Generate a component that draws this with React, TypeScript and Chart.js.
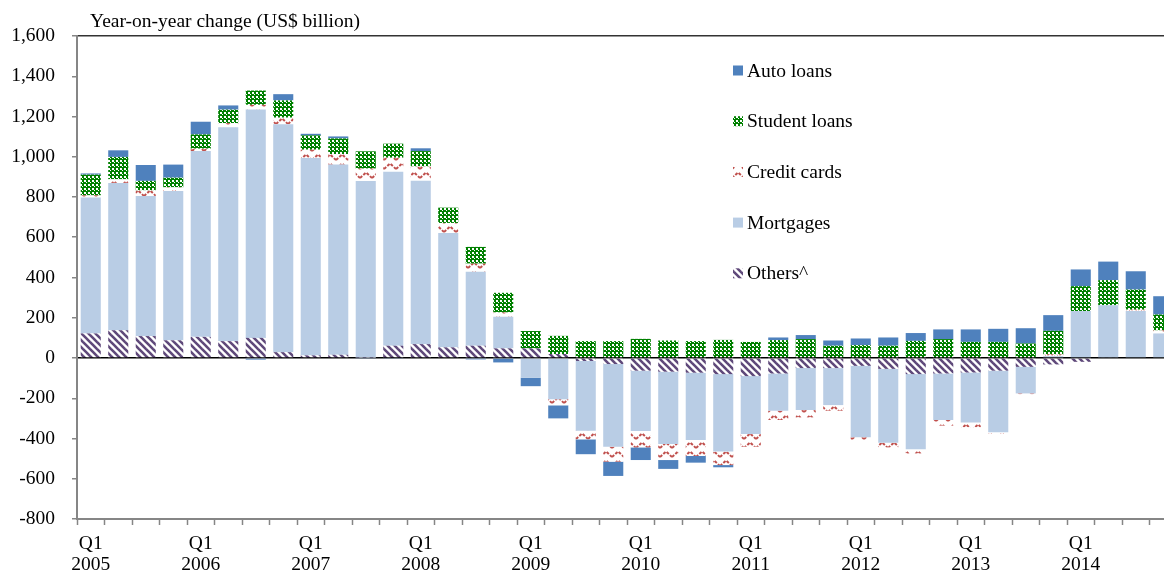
import React, { useEffect, useRef } from 'react';
import { Chart, registerables } from 'chart.js';

Chart.register(...registerables);

const years = ['2005', '2006', '2007', '2008', '2009', '2010', '2011', '2012', '2013', '2014'];
const quarters = ['Q1', 'Q2', 'Q3', 'Q4'];

const others = [122, 138, 109, 88, 105, 84, 100, 29, 13, 16, 2, 61, 69, 53, 61, 48, 48, 20, -15, -30, -63, -68, -73, -80, -90, -77, -50, -50, -39, -54, -80, -77, -72, -63, -44, -32, -19, 4, 0, 0];
const mortgages = [675, 732, 696, 742, 923, 1063, 1135, 1133, 981, 945, 878, 865, 812, 568, 367, 157, -98, -205, -346, -411, -300, -359, -334, -385, -288, -185, -209, -184, -355, -367, -374, -231, -249, -306, -132, 9, 233, 258, 234, 122];
const creditCards = [11, 18, 28, 18, 12, 20, 23, 32, 41, 52, 61, 69, 71, 50, 41, 21, 0, -30, -43, -74, -81, -80, -80, -67, -63, -46, -36, -28, -18, -23, -20, -28, -23, -7, -4, 9, 0, 0, 6, 15];
const studentLoans = [103, 111, 47, 48, 71, 67, 71, 86, 71, 78, 86, 70, 76, 76, 83, 98, 86, 90, 84, 84, 95, 87, 84, 90, 80, 89, 94, 61, 64, 61, 85, 94, 80, 80, 72, 117, 124, 125, 100, 79];
const autoLoans = [6, 33, 79, 65, 63, 21, -8, 31, 8, 10, -3, -3, 14, 0, -7, -22, -42, -65, -74, -71, -63, -44, -33, -11, 0, 13, 20, 26, 33, 41, 39, 48, 62, 65, 76, 78, 83, 92, 91, 91];

const seriesNames = ['Others^', 'Mortgages', 'Credit cards', 'Student loans', 'Auto loans'];
const axisTitle = 'Year-on-year change (US$ billion)';
const yMin = -800;
const yMax = 1600;
const yStep = 200;

const FONT = "'Liberation Serif', 'Times New Roman', serif";

function tile(w: number, h: number, draw: (c: CanvasRenderingContext2D) => void) {
  const cv = document.createElement('canvas');
  cv.width = w;
  cv.height = h;
  const c = cv.getContext('2d')!;
  draw(c);
  return cv;
}

function makePatterns(ctx: CanvasRenderingContext2D) {
  const student = tile(4, 4, (c) => {
    c.fillStyle = '#008000';
    c.fillRect(0, 0, 4, 4);
    c.fillStyle = '#ffffff';
    c.fillRect(0, 0, 2, 2);
    c.fillRect(2, 2, 1, 1);
  });
  const othersT = tile(7, 7, (c) => {
    c.fillStyle = '#ffffff';
    c.fillRect(0, 0, 7, 7);
    c.strokeStyle = '#5F497A';
    c.lineWidth = 2.6;
    for (let k = -7; k <= 7; k += 7) {
      c.beginPath();
      c.moveTo(k - 1, -1);
      c.lineTo(k + 8, 8);
      c.stroke();
    }
  });
  const credit = tile(12, 9, (c) => {
    c.fillStyle = '#ffffff';
    c.fillRect(0, 0, 12, 9);
    c.strokeStyle = '#C0504D';
    c.lineWidth = 2;
    c.setLineDash([3, 1.5]);
    c.beginPath();
    c.moveTo(0, 7);
    c.lineTo(6, 1.5);
    c.lineTo(12, 7);
    c.stroke();
  });
  return {
    others: ctx.createPattern(othersT, 'repeat')!,
    mortgages: '#B9CDE5',
    credit: ctx.createPattern(credit, 'repeat')!,
    student: ctx.createPattern(student, 'repeat')!,
    auto: '#4F81BD',
  };
}

export default function App() {
  const ref = useRef<HTMLCanvasElement>(null);

  useEffect(() => {
    const canvas = ref.current!;
    const ctx = canvas.getContext('2d')!;
    const p = makePatterns(ctx);
    const fills = [p.others, p.mortgages, p.credit, p.student, p.auto];
    const values = [others, mortgages, creditCards, studentLoans, autoLoans];

    const labels: string[] = [];
    years.forEach((y) => quarters.forEach((q) => labels.push(q + ' ' + y)));

    const overlay = {
      id: 'overlay',
      afterDraw(chart: any) {
        const c = chart.ctx as CanvasRenderingContext2D;
        c.save();
        c.fillStyle = '#000';
        c.font = `19.5px ${FONT}`;
        c.textBaseline = 'alphabetic';
        c.textAlign = 'left';
        c.fillText(axisTitle, 90, 27);
        const order = [4, 3, 2, 1, 0];
        order.forEach((di, i) => {
          const cy = 70.5 + i * 50.7;
          c.fillStyle = fills[di] as any;
          c.fillRect(733, cy - 5, 10, 10);
          c.fillStyle = '#000';
          c.fillText(seriesNames[di], 747, cy + 6);
        });
        c.restore();
      },
    };

    const chart = new Chart(ctx, {
      type: 'bar',
      data: {
        labels,
        datasets: values.map((v, i) => ({
          label: seriesNames[i],
          data: v,
          backgroundColor: fills[i] as any,
          borderWidth: 0,
          categoryPercentage: 1,
          barPercentage: 0.73,
        })),
      },
      options: {
        responsive: false,
        animation: false,
        devicePixelRatio: 1,
        layout: { padding: { top: 36, right: 3, left: 0, bottom: 0 } },
        plugins: {
          legend: { display: false },
          tooltip: { enabled: false },
          title: { display: false },
        },
        scales: {
          x: {
            stacked: true,
            afterFit: (s: any) => {
              s.height = 52;
            },
            grid: {
              offset: true,
              drawOnChartArea: false,
              drawTicks: true,
              tickLength: 6,
              tickColor: '#868686',
              tickWidth: 1.5,
              color: '#868686',
            },
            border: { display: true, color: '#868686', width: 2 },
            ticks: {
              autoSkip: false,
              maxRotation: 0,
              minRotation: 0,
              padding: 8,
              color: '#000',
              font: { family: FONT, size: 19.5, lineHeight: 1.1 },
              callback: (_v: any, i: number) => (i % 4 === 0 ? [quarters[0], years[i / 4]] : ''),
            },
          },
          y: {
            stacked: true,
            min: yMin,
            max: yMax,
            afterFit: (s: any) => {
              s.width = 77;
            },
            grid: {
              drawTicks: true,
              tickLength: 5,
              tickColor: '#868686',
              tickWidth: 1.5,
              color: (c: any) => (c.tick && c.tick.value === 0 ? '#000000' : c.tick && c.tick.value === yMax ? '#333333' : 'rgba(0,0,0,0)'),
              lineWidth: 1.5,
            },
            border: { display: true, color: '#868686', width: 2 },
            ticks: {
              stepSize: yStep,
              padding: 17,
              color: '#000',
              font: { family: FONT, size: 19.5 },
              callback: (v: any) => Number(v).toLocaleString('en-US'),
            },
          },
        },
      },
      plugins: [overlay],
    });
    return () => chart.destroy();
  }, []);

  return (
    <div style={{ position: 'fixed', left: 0, top: 0, width: 1164, height: 571, overflow: 'hidden', background: '#fff' }}>
      <canvas ref={ref} width={1180} height={571} style={{ display: 'block' }} />
    </div>
  );
}
